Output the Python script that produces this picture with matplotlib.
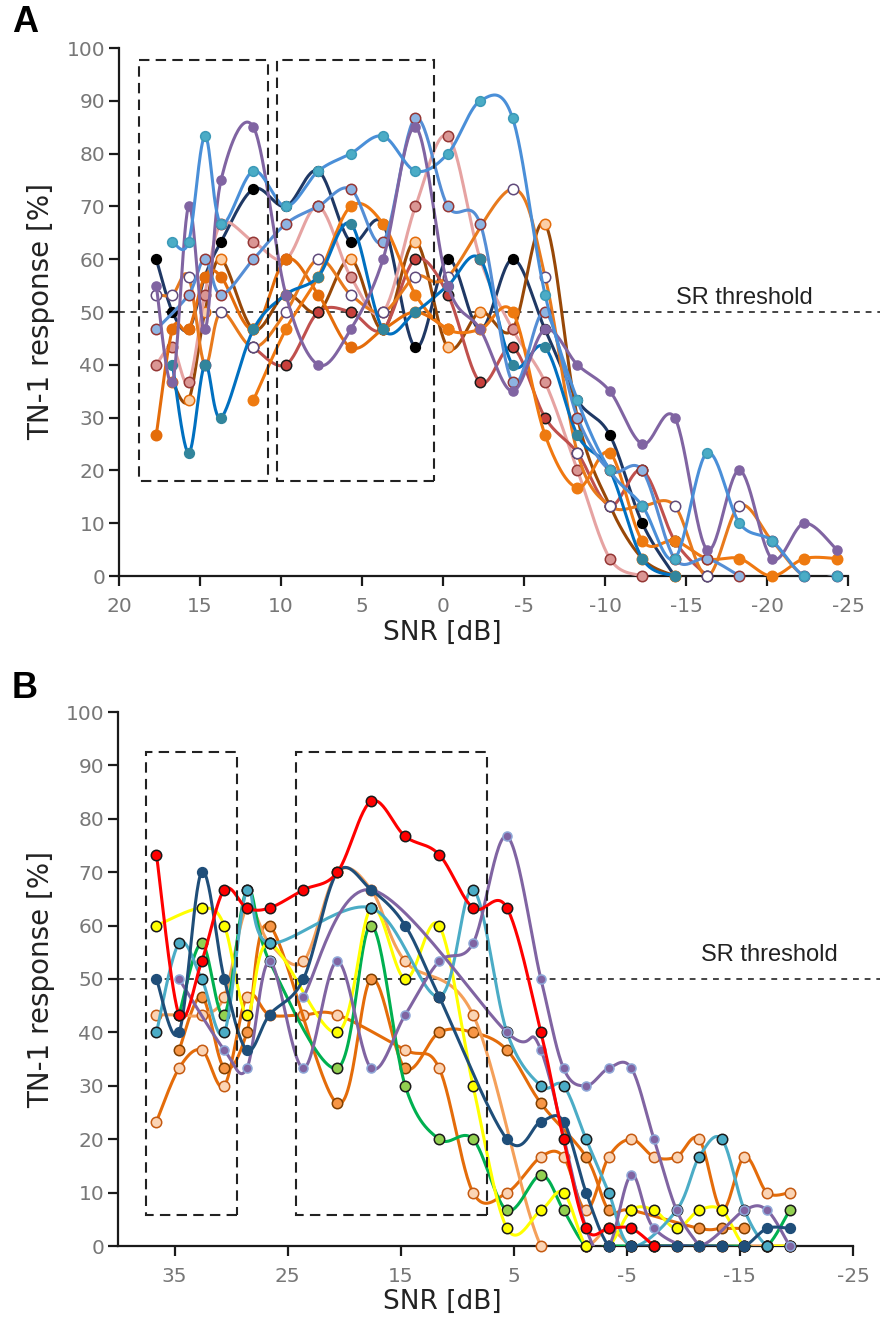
import numpy as np
import matplotlib
matplotlib.use("Agg")
import matplotlib.pyplot as plt
from matplotlib.patches import Rectangle

plt.rcParams['font.family'] = ['DejaVu Sans']
plt.rcParams['axes.unicode_minus'] = False
nan = np.nan

# ---------------- Panel A data ----------------
snr_a = [17.7, 16.7, 15.7, 14.7, 13.7, 11.7, 9.7, 7.7, 5.7, 3.7, 1.7, -0.3, -2.3, -4.3,
         -6.3, -8.3, -10.3, -12.3, -14.3, -16.3, -18.3, -20.3, -22.3, -24.3]
a_navy = [60, 50, 46.7, 56.7, 63.3, 73.3, 70, 76.7, 63.3, 66.7, 43.3, 60, 46.7, 60,
          46.7, 33.3, 26.7, 10, 0, nan, nan, nan, nan, nan]
a_peach = [nan, 36.7, 33.3, 50, 60, 46.7, 53.3, 50, 60, 46.7, 63.3, 43.3, 50, 46.7,
           66.7, 30, 13.3, 3.3, 0, nan, nan, nan, nan, nan]
a_pink = [40, 43.3, 36.7, 53.3, 66.7, 63.3, 60, 70, 56.7, 50, 70, 83.3, 60, 46.7,
          36.7, 20, 3.3, 0, nan, nan, nan, nan, nan, nan]
a_dkred = [nan, nan, nan, nan, nan, 43.3, 40, 50, 50, 46.7, 60, 53.3, 36.7, 43.3,
           30, 23.3, 13.3, 20, 6.7, 0, nan, nan, nan, nan]
a_orange1 = [26.7, 46.7, 46.7, 56.7, 56.7, 46.7, 60, 53.3, 43.3, 46.7, 50, 46.7, nan, nan,
             nan, nan, nan, nan, nan, nan, nan, nan, nan, nan]
a_orange2 = [nan, nan, nan, nan, nan, 33.3, 46.7, 56.7, 70, 66.7, 53.3, 46.7, 46.7, 50,
             26.7, 16.7, 23.3, 6.7, 6.7, 3.3, 3.3, 0, 3.3, 3.3]
a_white = [53.3, 53.3, 56.7, 40, 50, 43.3, 50, 60, 53.3, 50, 56.7, 56.7, nan, 73.3,
           56.7, 23.3, 13.3, 13.3, 13.3, 0, 13.3, 6.7, 0, 0]
a_teal = [nan, 40, 23.3, 40, 30, 46.7, 53.3, 56.7, 66.7, 46.7, 50, 55, 60, 40,
          43.3, 26.7, 20, 3.3, 0, nan, nan, nan, nan, nan]
a_ltblue = [46.7, nan, 53.3, 60, 53.3, 60, 66.7, 70, 73.3, 63.3, 86.7, 70, 66.7, 36.7,
            50, 30, 20, 20, 3.3, 3.3, 0, nan, nan, nan]
a_purple = [55, 36.7, 70, 46.7, 75, 85, 53.3, 40, 46.7, 60, 85, 55, 46.7, 35,
            46.7, 40, 35, 25, 30, 5, 20, 3.3, 10, 5]
a_cyan = [nan, 63.3, 63.3, 83.3, 66.7, 76.7, 70, 76.7, 80, 83.3, 76.7, 80, 90, 86.7,
          53.3, 33.3, 20, 13.3, 3.3, 23.3, 10, 6.7, 0, 0]

# ---------------- Panel B data ----------------
snr_b = [36.6, 34.6, 32.6, 30.6, 28.6, 26.6, 23.6, 20.6, 17.6, 14.6, 11.6, 8.6, 5.6, 2.6,
         0.6, -1.4, -3.4, -5.4, -7.4, -9.4, -11.4, -13.4, -15.4, -17.4, -19.4]
b_red = [73.3, 43.3, 53.3, 66.7, 63.3, 63.3, 66.7, 70, 83.3, 76.7, 73.3, 63.3, 63.3, 40,
         20, 3.3, 3.3, 3.3, 0, nan, nan, nan, nan, nan, nan]
b_green = [nan, 43.3, 56.7, 43.3, 66.7, 53.3, nan, 33.3, 60, 30, 20, 20, 6.7, 13.3,
           6.7, 0, 0, 0, 0, 0, 0, 0, 0, 0, 6.7]
b_yellow = [60, nan, 63.3, 60, 43.3, 56.7, nan, 40, 63.3, 50, 60, 30, 3.3, 6.7,
            10, 0, 0, 6.7, 6.7, 3.3, 6.7, 6.7, 0, 0, 0]
b_navy = [50, 40, 70, 50, 36.7, 43.3, 50, 70, 66.7, 60, 46.7, nan, 20, 23.3,
          23.3, 10, 0, 0, 0, 0, 0, 0, 0, 3.3, 3.3]
b_cyan = [40, 56.7, 50, 40, 66.7, 56.7, nan, nan, 63.3, nan, 46.7, 66.7, 40, 30,
          30, 20, 10, 0, nan, 6.7, 16.7, 20, 6.7, 0, 0]
b_purple1 = [nan, 50, nan, 36.7, 33.3, 53.3, 33.3, 53.3, 33.3, 43.3, 53.3, 56.7, 76.7, 50,
             33.3, 30, 33.3, 33.3, 20, 6.7, 0, nan, nan, nan, nan]
b_purple2 = [nan, nan, nan, nan, nan, nan, 46.7, nan, 66.7, nan, nan, nan, 40, 36.7,
             nan, 3.3, 0, 13.3, 3.3, nan, 0, nan, 6.7, 6.7, 0]
b_orange = [nan, 36.7, 46.7, 33.3, 40, 60, nan, 26.7, 50, 33.3, 40, 40, 36.7, 26.7,
            nan, 16.7, 6.7, 6.7, nan, nan, 3.3, 3.3, 3.3, nan, nan]
b_peach1 = [23.3, 33.3, 36.7, 30, 46.7, 43.3, 43.3, 43.3, nan, 36.7, 33.3, 10, 10, 16.7,
            16.7, 6.7, 16.7, 20, 16.7, 16.7, 20, 6.7, 16.7, 10, 10]
b_peach2 = [43.3, 43.3, 43.3, 46.7, 63.3, 56.7, 53.3, 70, 66.7, 53.3, nan, 43.3, nan, 0,
            nan, 0, 3.3, 0, 0, 0, 0, 0, 0, 0, 0]

y_ticks = [0, 10, 20, 30, 40, 50, 60, 70, 80, 90, 100]
xt_a = [20, 15, 10, 5, 0, -5, -10, -15, -20, -25]
xt_b = [35, 25, 15, 5, -5, -15, -25]

# (values, line color, marker face, marker edge, marker size)
series_a = [
    (a_navy, '#1F3864', '#000000', '#000000', 7),
    (a_peach, '#984807', '#FBCFA6', '#E46C0A', 7.5),
    (a_pink, '#E6A3A2', '#DA9694', '#953735', 7.5),
    (a_dkred, '#C0504D', '#C8403C', '#1A1A1A', 7.5),
    (a_orange1, '#E46C0A', '#E46C0A', '#E46C0A', 7.5),
    (a_orange2, '#F07810', '#EE7A10', '#EE7A10', 7.5),
    (a_white, '#E87A1C', '#FFFFFF', '#604A7B', 7.5),
    (a_teal, '#0070C0', '#31859C', '#31859C', 7),
    (a_ltblue, '#558ED5', '#8DB4E2', '#953735', 7.5),
    (a_purple, '#8064A2', '#8064A2', '#8064A2', 6.5),
    (a_cyan, '#4A8FD8', '#4BACC6', '#3C9AB8', 7),
]
series_b = [
    (b_peach1, '#E46C0A', '#FBD4B4', '#C55A11', 7.5),
    (b_orange, '#E46C0A', '#F79646', '#7F3F00', 7.5),
    (b_peach2, '#F4A05A', '#FBD4B4', '#C55A11', 7.5),
    (b_green, '#00B050', '#92D050', '#1A1A1A', 7.5),
    (b_yellow, '#FFFF00', '#FFFF00', '#1A1A1A', 7.5),
    (b_cyan, '#4BACC6', '#4BACC6', '#1A1A1A', 7.5),
    (b_purple2, '#8064A2', '#8064A2', '#8FA8D8', 6.5),
    (b_purple1, '#8064A2', '#8064A2', '#8FA8D8', 6.5),
    (b_navy, '#1F4E79', '#1F4E79', '#1F4E79', 7),
    (b_red, '#FF0000', '#FF0000', '#1A1A1A', 7.5),
]


def smooth(xs, ys, n=30):
    """Excel-like smoothed line (Catmull-Rom converted to cubic Bezier)."""
    pts = np.column_stack([xs, ys])
    m = len(pts)
    if m < 2:
        return pts[:, 0], pts[:, 1]
    out = []
    t = np.linspace(0, 1, n)[:, None]
    for i in range(m - 1):
        p0 = pts[i - 1] if i > 0 else pts[i]
        p1 = pts[i]
        p2 = pts[i + 1]
        p3 = pts[i + 2] if i + 2 < m else pts[i + 1]
        c1 = p1 + (p2 - p0) / 6.0
        c2 = p2 - (p3 - p1) / 6.0
        seg = ((1 - t) ** 3) * p1 + 3 * ((1 - t) ** 2) * t * c1 + 3 * (1 - t) * t ** 2 * c2 + t ** 3 * p2
        out.append(seg if i == 0 else seg[1:])
    arr = np.vstack(out)
    return arr[:, 0], arr[:, 1]


def draw_series(ax, xs, series):
    xs = np.asarray(xs, float)
    for vals, lc, mf, me, ms in series:
        v = np.asarray(vals, float)
        ok = ~np.isnan(v)
        sx, sy = smooth(xs[ok], v[ok])
        ax.plot(sx, sy, color=lc, lw=2.2, solid_capstyle='round', zorder=3)
        ax.plot(xs[ok], v[ok], ls='none', marker='o', ms=ms, mfc=mf, mec=me, mew=1.1,
                zorder=3, clip_on=False)


W, H = 881, 1319
fig = plt.figure(figsize=(W / 100, H / 100), dpi=100)


def style_axes(ax, xlim, xticks):
    ax.set_xlim(*xlim)
    ax.set_ylim(0, 100)
    ax.set_yticks(y_ticks)
    ax.set_xticks(xticks)
    ax.set_xticklabels([str(t) for t in xticks])
    for s in ['top', 'right']:
        ax.spines[s].set_visible(False)
    for s in ['left', 'bottom']:
        ax.spines[s].set_linewidth(1.6)
        ax.spines[s].set_color('#1a1a1a')
    ax.tick_params(axis='both', direction='out', length=7, width=1.6, color='#1a1a1a',
                   labelsize=14.5, labelcolor='#777777')
    ax.tick_params(axis='x', pad=8)
    ax.tick_params(axis='y', pad=3)
    ax.set_ylabel('TN-1 response [%]', fontsize=20, color='#222222')
    ax.set_xlabel('SNR [dB]', fontsize=19, color='#222222')


# Panel A
axA = fig.add_axes([119 / W, 1 - 576 / H, 729 / W, 528 / H])
style_axes(axA, (20, -25), xt_a)
axA.yaxis.set_label_coords(-0.088, 0.5)
axA.xaxis.set_label_coords(0.443, -0.083)
axA.plot([0, 1.044], [50, 50], transform=axA.get_yaxis_transform(), color='#444444',
         lw=1.4, ls=(0, (3, 3)), clip_on=False, zorder=2)
for (x0, x1) in [(18.77, 10.8), (10.26, 0.58)]:
    axA.add_patch(Rectangle((x1, 18), x0 - x1, 97.7 - 18, fill=False, ec='#222222', lw=1.5,
                            ls=(0, (5, 3)), zorder=5, clip_on=False))
draw_series(axA, snr_a, series_a)
fig.text(744 / W, 1 - 298 / H, 'SR threshold', fontsize=17, family='Liberation Sans',
         color='#222222', ha='center', va='center')
fig.text(12 / W, 1 - 22 / H, 'A', fontsize=26, fontweight='bold', family='Liberation Sans',
         ha='left', va='center')

# Panel B
axB = fig.add_axes([118 / W, 1 - 1246 / H, 735 / W, 534 / H])
style_axes(axB, (40, -25), xt_b)
axB.yaxis.set_label_coords(-0.086, 0.5)
axB.xaxis.set_label_coords(0.441, -0.080)
axB.plot([0, 1.037], [50, 50], transform=axB.get_yaxis_transform(), color='#444444',
         lw=1.4, ls=(0, (3, 3)), clip_on=False, zorder=2)
for (x0, x1) in [(37.5, 29.5), (24.3, 7.4)]:
    axB.add_patch(Rectangle((x1, 5.8), x0 - x1, 92.5 - 5.8, fill=False, ec='#222222', lw=1.5,
                            ls=(0, (5, 3)), zorder=5, clip_on=False))
draw_series(axB, snr_b, series_b)
fig.text(769 / W, 1 - 955 / H, 'SR threshold', fontsize=17, family='Liberation Sans',
         color='#222222', ha='center', va='center')
fig.text(12 / W, 1 - 688 / H, 'B', fontsize=26, fontweight='bold', family='Liberation Sans',
         ha='left', va='center')

fig.savefig('out.png', dpi=100)
